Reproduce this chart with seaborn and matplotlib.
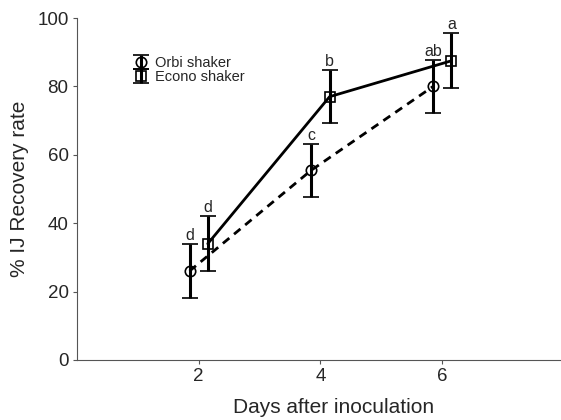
import pandas as pd
import seaborn as sns
import matplotlib.pyplot as plt

# values
days = [2, 4, 6]
orbi_mean = [26, 55.5, 80]
orbi_err = [8, 7.8, 7.8]
econo_mean = [34, 77, 87.5]
econo_err = [8, 7.8, 8]
orbi_letters = ["d", "c", "ab"]
econo_letters = ["d", "b", "a"]
offset = 0.15

sns.set_style("ticks")
plt.rcParams['font.family'] = ['Liberation Sans', 'DejaVu Sans']

df = pd.DataFrame({
    "day": [d - offset for d in days] + [d + offset for d in days],
    "rate": orbi_mean + econo_mean,
    "err": orbi_err + econo_err,
    "shaker": ["Orbi shaker"] * 3 + ["Econo shaker"] * 3,
})

fig, ax = plt.subplots(figsize=(5.61, 4.2), dpi=100)
fig.subplots_adjust(left=0.137, right=1.0, bottom=0.143, top=0.957)

sns.lineplot(data=df, x="day", y="rate", hue="shaker", style="shaker",
             palette=["black", "black"], dashes={"Orbi shaker": (3, 2.2), "Econo shaker": ""},
             lw=2, legend=False, ax=ax)

handles = []
for name, mk, letters in [("Orbi shaker", "o", orbi_letters), ("Econo shaker", "s", econo_letters)]:
    sub = df[df["shaker"] == name]
    h = ax.errorbar(sub["day"], sub["rate"], yerr=sub["err"], fmt=mk, mfc="none", mec="black",
                    ms=7.5, mew=1.2, ecolor="black", elinewidth=2.2, capsize=5.5, capthick=2.2,
                    label=name, zorder=3)
    handles.append(h)
    for x, y, e, t in zip(sub["day"], sub["rate"], sub["err"], letters):
        ax.text(x, y + e + 0.3, t, ha="center", va="bottom", fontsize=11.5)

leg = ax.legend(handles=handles, loc="upper left", bbox_to_anchor=(0.093, 0.91), frameon=False,
                fontsize=10.5, handlelength=1.6, handletextpad=0.15, labelspacing=0.0, borderpad=0)

ax.set_xlim(0, 7.95)
ax.set_ylim(0, 100)
ax.set_xticks(days)
ax.set_yticks([0, 20, 40, 60, 80, 100])
ax.tick_params(labelsize=13.5, length=3, pad=3, color="#555555")
ax.set_xlabel("Days after inoculation", fontsize=15, labelpad=9.5, x=0.53)
ax.set_ylabel("% IJ Recovery rate", fontsize=15, labelpad=6)
for s in ["left", "bottom"]:
    ax.spines[s].set_color("#555555")
sns.despine(ax=ax)

fig.savefig("out.png", dpi=100)
